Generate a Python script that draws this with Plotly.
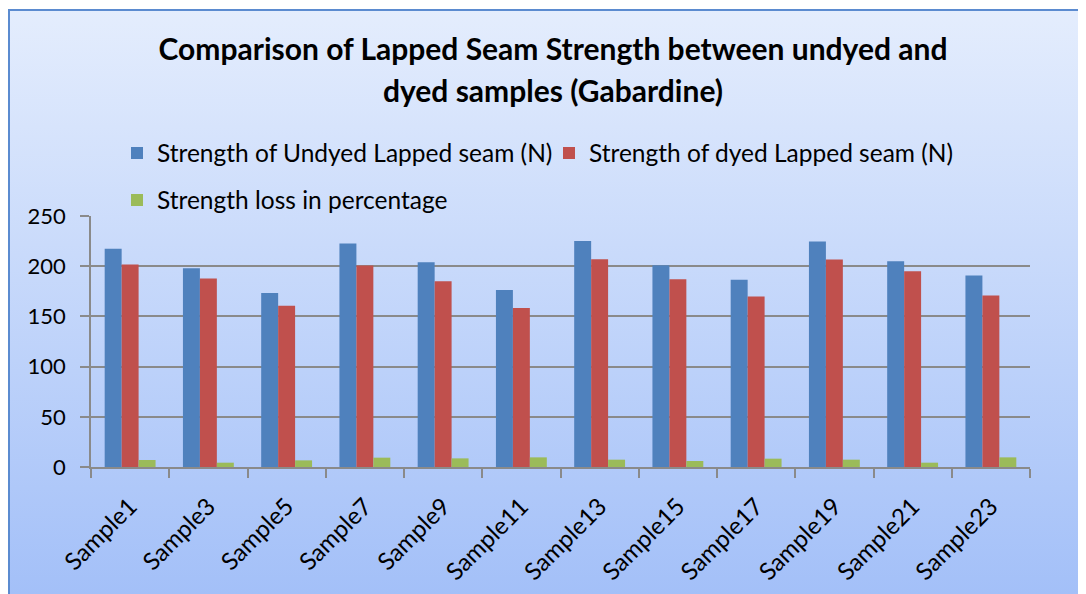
import base64
import plotly.graph_objects as go

categories = ["Sample1", "Sample3", "Sample5", "Sample7", "Sample9", "Sample11",
              "Sample13", "Sample15", "Sample17", "Sample19", "Sample21", "Sample23"]
undyed = [217.5, 198.0, 173.2, 222.5, 204.0, 176.2, 225.2, 201.0, 186.4, 224.5, 205.0, 190.7]
dyed = [201.7, 187.7, 160.6, 200.7, 185.1, 158.3, 207.0, 187.1, 169.9, 206.6, 195.0, 170.9]
loss = [7.0, 4.3, 6.6, 9.3, 8.6, 9.6, 7.3, 6.0, 8.3, 7.3, 4.3, 9.6]

names = ["Strength of Undyed Lapped seam (N)", "Strength of dyed Lapped seam (N)",
         "Strength loss in percentage"]
colors = ["#4f81bd", "#c0504d", "#9bbb59"]

FONT = "Lato"
OFF = 8  # default page body margin
W, H = 1086 - OFF, 594 - OFF
L, R, T, B = 91 - OFF, 1030 - OFF, 216 - OFF, 467 - OFF
pw, ph = R - L, B - T

fig = go.Figure()
fig.add_trace(go.Bar(x=categories, y=undyed, name=names[0], marker_color=colors[0],
                     marker_line_width=0, legend="legend"))
fig.add_trace(go.Bar(x=categories, y=dyed, name=names[1], marker_color=colors[1],
                     marker_line_width=0, legend="legend2"))
fig.add_trace(go.Bar(x=categories, y=loss, name=names[2], marker_color=colors[2],
                     marker_line_width=0, legend="legend3"))

# gradient background panel with border
bx0, by0 = 0, 1
bw, bh = W - bx0 + 10, H - by0 + 10
svg = (f'<svg xmlns="http://www.w3.org/2000/svg" width="{bw}" height="{bh}" '
       f'viewBox="0 0 {bw} {bh}" preserveAspectRatio="none">'
       '<defs><linearGradient id="g" x1="0" y1="0" x2="0" y2="1">'
       '<stop offset="0" stop-color="#e4edfd"/><stop offset="1" stop-color="#a2bff8"/>'
       '</linearGradient></defs>'
       f'<rect x="1" y="1" width="{bw}" height="{bh}" fill="url(#g)" '
       'stroke="#5b8bd0" stroke-width="2"/></svg>')
src = "data:image/svg+xml;base64," + base64.b64encode(svg.encode()).decode()
fig.add_layout_image(dict(source=src, xref="paper", yref="paper",
                          x=(bx0 - L) / pw, y=(B - by0) / ph,
                          sizex=bw / pw, sizey=bh / ph,
                          xanchor="left", yanchor="top", sizing="stretch",
                          layer="below"))

title_text = ('<span style="font-size:30px">Comparison of Lapped Seam Strength between undyed and</span>'
              '<br><span style="font-size:30px">dyed samples (Gabardine)</span>')


def lx(px):
    return (px - OFF - L) / pw


def ly(py):
    return (B - (py - OFF)) / ph


leg_font = dict(family=FONT, size=24.5, color="black")
axis_grey = "#8a8a8a"
fig.update_layout(
    width=W, height=H,
    margin=dict(l=L, r=W - R, t=T, b=H - B, pad=0, autoexpand=False),
    paper_bgcolor="white",
    plot_bgcolor="white",
    font=dict(family=FONT, size=21, color="black"),
    title=dict(text=title_text, font=dict(family=FONT, size=32, color="black", weight="bold"),
               x=lx(553), xref="paper", xanchor="center",
               y=1 - 52 / H, yref="container", yanchor="top"),
    barmode="group", bargap=0.35, bargroupgap=0,
    showlegend=True,
    legend=dict(orientation="h", x=lx(117), xanchor="left", y=ly(153), yanchor="middle",
                bgcolor="rgba(0,0,0,0)", font=leg_font),
    legend2=dict(orientation="h", x=lx(549), xanchor="left", y=ly(153), yanchor="middle",
                 bgcolor="rgba(0,0,0,0)", font=leg_font),
    legend3=dict(orientation="h", x=lx(117), xanchor="left", y=ly(200), yanchor="middle",
                 bgcolor="rgba(0,0,0,0)", font=leg_font),
)
fig.update_xaxes(showline=True, linecolor=axis_grey, linewidth=1.5, automargin=False,
                 ticks="outside", tickson="boundaries", ticklen=9, tickcolor=axis_grey,
                 tickwidth=1.5, tickangle=-45, showgrid=False, ticklabelstandoff=14,
                 tickfont=dict(family=FONT, size=24, color="black"))
fig.update_yaxes(range=[0, 250], dtick=50, showline=True, linecolor=axis_grey, linewidth=1.5,
                 ticks="outside", ticklen=9, tickcolor=axis_grey, tickwidth=1.5, automargin=False,
                 showgrid=True, gridcolor=axis_grey, gridwidth=1.5, zeroline=False,
                 ticklabelstandoff=10,
                 tickfont=dict(family=FONT, size=22, color="black"))

fig.write_html("out.html")
